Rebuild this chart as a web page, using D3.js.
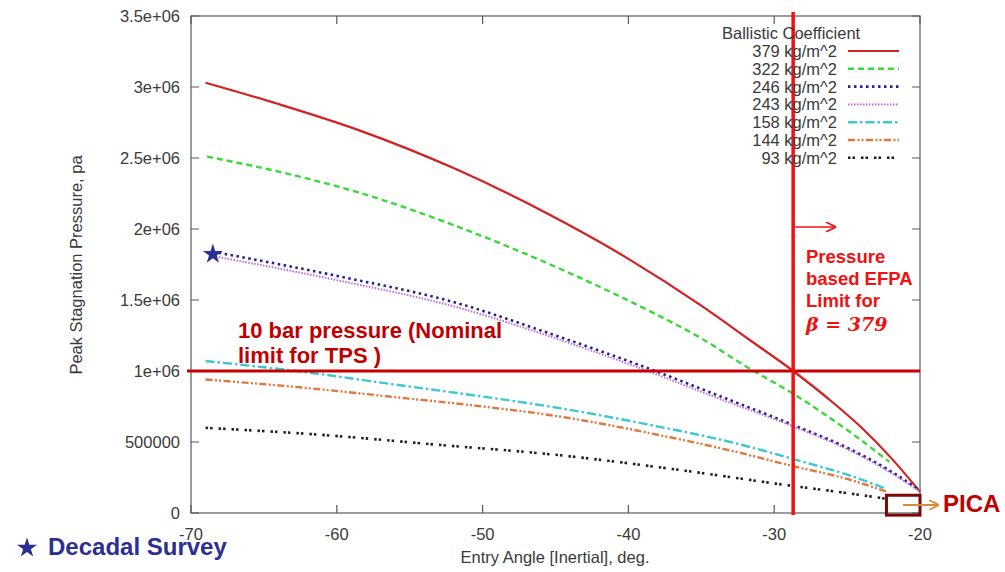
<!DOCTYPE html>
<html>
  <head>
    <meta charset="utf-8">
    <script src="https://d3js.org/d3.v7.min.js"></script>
    <title>Peak Stagnation Pressure vs Entry Angle</title>
    <style>
      body { margin: 0px; background: #fff; }
      svg { display: block; }
      .tick-label, .axis-label, .legend-text {
        fill: #3a3a3a;
        font-family: "Liberation Sans", Arial, sans-serif;
        font-size: 16.5px;
      }
      .note {
        font-family: "Liberation Sans", Arial, sans-serif;
        font-weight: bold;
      }
    </style>
  </head>
  <body>
    <svg width="1005" height="572"></svg>
    <script>
      // ---- data ----
      const legendLabels = ['379 kg/m^2', '322 kg/m^2', '246 kg/m^2', '243 kg/m^2', '158 kg/m^2', '144 kg/m^2', '93 kg/m^2'];

      const angle379 = [-69, -64, -58.6, -51.8, -45.4, -40, -35, -31.7, -28.7, -26, -24, -22, -20];
      const p379 = [3.03e6, 2.88e6, 2.70e6, 2.42e6, 2.10e6, 1.79e6, 1.46e6, 1.22e6, 1.00e6, 0.78e6, 0.60e6, 0.39e6, 0.15e6];

      const angle322 = [-68.9, -63, -58.6, -51.8, -44.7, -38.5, -35, -31.9, -28.7, -24.8, -22.1];
      const p322 = [2.51e6, 2.38e6, 2.26e6, 2.02e6, 1.72e6, 1.42e6, 1.23e6, 1.03e6, 0.84e6, 0.57e6, 0.36e6];

      const angle246 = [-68.5, -60, -51.8, -45, -39.2, -33.9, -28.7, -24.8, -22.1, -20];
      const p246 = [1.84e6, 1.67e6, 1.48e6, 1.25e6, 1.04e6, 0.83e6, 0.62e6, 0.45e6, 0.30e6, 0.16e6];

      const angle243 = [-68.5, -60, -51.8, -45, -39.2, -33.9, -28.7, -24.8, -22.1, -20];
      const p243 = [1.81e6, 1.64e6, 1.45e6, 1.23e6, 1.02e6, 0.81e6, 0.61e6, 0.44e6, 0.29e6, 0.15e6];

      const angle158 = [-69, -62, -56.4, -50, -45.4, -38.5, -33, -28.7, -25, -22.3];
      const p158 = [1.07e6, 0.99e6, 0.91e6, 0.82e6, 0.75e6, 0.62e6, 0.50e6, 0.38e6, 0.27e6, 0.17e6];

      const angle144 = [-69, -62, -56.4, -50, -45.4, -37, -33, -28.7, -25, -22.3];
      const p144 = [0.94e6, 0.88e6, 0.82e6, 0.75e6, 0.69e6, 0.53e6, 0.44e6, 0.33e6, 0.24e6, 0.15e6];

      const angle93 = [-69, -61, -53, -45, -37, -28.7, -25, -22.3];
      const p93 = [0.60e6, 0.55e6, 0.48e6, 0.41e6, 0.31e6, 0.19e6, 0.14e6, 0.10e6];

      const xTicks = [-70, -60, -50, -40, -30, -20];
      const yTicks = [0, 500000, 1000000, 1500000, 2000000, 2500000, 3000000, 3500000];
      const yTickLabels = ['0', '500000', '1e+06', '1.5e+06', '2e+06', '2.5e+06', '3e+06', '3.5e+06'];

      const pressureLimit = 1e6;       // 10 bar
      const efpaLimit = -28.7;         // angle where beta=379 reaches 10 bar
      const decadalPoint = [-68.5, 1.83e6];
      const picaBox = [-22.3, -20, -0.015e6, 0.125e6];

      // line styles per series
      const colors = ['#d42020', '#3ad83a', '#23238f', '#c266e6', '#3cc8d2', '#e0783c', '#1e1e1e'];
      const dashes = ['none', '6,4', '2.5,3.5', '1.5,1.5', '9,3,2.5,3', '7,2.5,2,2,2,2.5', '2.5,2,2.5,6'];
      const widths = [2.2, 2.4, 2.6, 2, 2.4, 2.4, 2.6];

      const series = [
        [angle379, p379], [angle322, p322], [angle246, p246], [angle243, p243],
        [angle158, p158], [angle144, p144], [angle93, p93]
      ].map(([a, p]) => a.map((v, i) => ({ angle: v, p: p[i] })));

      // ---- layout ----
      const svg = d3.select('svg');
      const margin = { left: 191, right: 85, top: 16, bottom: 59 };
      const innerWidth = 1005 - margin.left - margin.right;
      const innerHeight = 572 - margin.top - margin.bottom;
      const g = svg.append('g')
          .attr('transform', `translate(${margin.left},${margin.top})`);

      const xScale = d3.scaleLinear().domain([-70, -20]).range([0, innerWidth]);
      const yScale = d3.scaleLinear().domain([0, 3.5e6]).range([innerHeight, 0]);

      // frame with mirrored inward ticks (gnuplot look)
      const frameColor = '#5a5a5a';
      const tickLen = 8;
      g.append('rect')
          .attr('width', innerWidth).attr('height', innerHeight)
          .attr('fill', 'none').attr('stroke', frameColor).attr('stroke-width', 1.2);

      g.selectAll('.ytick').data(yTicks).enter().append('path')
          .attr('class', 'ytick')
          .attr('d', d => `M0,${yScale(d)}h${tickLen}M${innerWidth},${yScale(d)}h${-tickLen}`)
          .attr('stroke', frameColor).attr('stroke-width', 1.2);
      g.selectAll('.xtick').data(xTicks).enter().append('path')
          .attr('class', 'xtick')
          .attr('d', d => `M${xScale(d)},${innerHeight}v${-tickLen}M${xScale(d)},0v${tickLen}`)
          .attr('stroke', frameColor).attr('stroke-width', 1.2);

      g.selectAll('.ylab').data(yTicks).enter().append('text')
          .attr('class', 'tick-label')
          .attr('x', -11)
          .attr('y', d => yScale(d))
          .attr('dy', '0.35em')
          .attr('text-anchor', 'end')
          .text((d, i) => yTickLabels[i]);
      g.selectAll('.xlab').data(xTicks).enter().append('text')
          .attr('class', 'tick-label')
          .attr('x', d => xScale(d))
          .attr('y', innerHeight + 27)
          .attr('text-anchor', 'middle')
          .text(d => d);

      // axis titles
      svg.append('text')
          .attr('class', 'axis-label')
          .attr('x', 555).attr('y', 563)
          .attr('text-anchor', 'middle')
          .text('Entry Angle [Inertial], deg.');
      svg.append('text')
          .attr('class', 'axis-label')
          .attr('transform', 'translate(82,265) rotate(-90)')
          .attr('text-anchor', 'middle')
          .text('Peak Stagnation Pressure, pa');

      // curves
      const line = d3.line()
          .x(d => xScale(d.angle))
          .y(d => yScale(d.p))
          .curve(d3.curveMonotoneX);
      g.selectAll('.curve').data(series).enter().append('path')
          .attr('class', 'curve')
          .attr('d', line)
          .attr('fill', 'none')
          .attr('stroke', (d, i) => colors[i])
          .attr('stroke-width', (d, i) => widths[i])
          .attr('stroke-dasharray', (d, i) => dashes[i]);

      // legend
      const legendG = svg.append('g');
      legendG.append('text')
          .attr('class', 'legend-text')
          .attr('x', 722).attr('y', 39)
          .text('Ballistic Coefficient');
      const rows = legendG.selectAll('.row').data(legendLabels).enter().append('g')
          .attr('transform', (d, i) => `translate(0, ${57 + i * 17.8})`);
      rows.append('text')
          .attr('class', 'legend-text')
          .attr('x', 837).attr('text-anchor', 'end')
          .text(d => d);
      rows.append('line')
          .attr('x1', 848).attr('x2', 899)
          .attr('y1', -6).attr('y2', -6)
          .attr('stroke', (d, i) => colors[i])
          .attr('stroke-width', (d, i) => widths[i])
          .attr('stroke-dasharray', (d, i) => dashes[i]);

      // 10 bar horizontal limit
      g.append('line')
          .attr('x1', -4).attr('x2', innerWidth)
          .attr('y1', yScale(pressureLimit)).attr('y2', yScale(pressureLimit))
          .attr('stroke', '#c80000').attr('stroke-width', 3);

      // EFPA vertical limit
      g.append('line')
          .attr('x1', xScale(efpaLimit)).attr('x2', xScale(efpaLimit))
          .attr('y1', -4).attr('y2', innerHeight + 2)
          .attr('stroke', '#f21010').attr('stroke-width', 3.5);

      // arrow heads
      const defs = svg.append('defs');
      [['arrowRed', '#f21010'], ['arrowOrange', '#d98a3a']].forEach(([id, c]) => {
        defs.append('marker')
            .attr('id', id).attr('viewBox', '0 0 10 10')
            .attr('refX', 9).attr('refY', 5)
            .attr('markerWidth', 10).attr('markerHeight', 10)
            .attr('markerUnits', 'userSpaceOnUse')
            .attr('orient', 'auto')
          .append('path')
            .attr('d', 'M0,0L10,5L0,10')
            .attr('fill', 'none').attr('stroke', c).attr('stroke-width', 1.6);
      });

      svg.append('line')
          .attr('x1', margin.left + xScale(efpaLimit) + 2).attr('x2', 835)
          .attr('y1', 227).attr('y2', 227)
          .attr('stroke', '#f21010').attr('stroke-width', 1.5)
          .attr('marker-end', 'url(#arrowRed)');

      const efpaText = svg.append('text')
          .attr('class', 'note')
          .attr('fill', '#f21010')
          .style('font-size', '18.5px');
      ['Pressure', 'based EFPA', 'Limit for'].forEach((t, i) => {
        efpaText.append('tspan').attr('x', 806).attr('y', 263 + i * 22).text(t);
      });
      svg.append('text')
          .attr('x', 806).attr('y', 331)
          .attr('fill', '#f21010')
          .style('font-family', '"DejaVu Serif", "Liberation Serif", serif')
          .style('font-weight', 'bold')
          .style('font-style', 'italic')
          .style('font-size', '19px')
          .text('β = 379');

      const tpsText = svg.append('text')
          .attr('class', 'note')
          .attr('fill', '#c00000')
          .style('font-size', '22px');
      ['10 bar pressure (Nominal', 'limit for TPS )'].forEach((t, i) => {
        tpsText.append('tspan').attr('x', 238).attr('y', 338 + i * 25).text(t);
      });

      // PICA box and label
      g.append('rect')
          .attr('x', xScale(picaBox[0])).attr('y', yScale(picaBox[3]))
          .attr('width', xScale(picaBox[1]) - xScale(picaBox[0]))
          .attr('height', yScale(picaBox[2]) - yScale(picaBox[3]))
          .attr('fill', 'none').attr('stroke', '#7a0a0a').attr('stroke-width', 3);
      svg.append('line')
          .attr('x1', 903).attr('x2', 938)
          .attr('y1', 505).attr('y2', 505)
          .attr('stroke', '#d98a3a').attr('stroke-width', 1.8)
          .attr('marker-end', 'url(#arrowOrange)');
      svg.append('text')
          .attr('class', 'note')
          .attr('x', 943).attr('y', 512)
          .attr('fill', '#c00000')
          .style('font-size', '24px')
          .text('PICA');

      // Decadal survey star on the chart and its key
      const star = d3.symbol().type(d3.symbolStar).size(125);
      g.append('path')
          .attr('d', star)
          .attr('transform', `translate(${xScale(decadalPoint[0])},${yScale(decadalPoint[1]) + 1})`)
          .attr('fill', '#2b2f93');
      svg.append('path')
          .attr('d', star)
          .attr('transform', 'translate(27,548)')
          .attr('fill', '#2b2f93');
      svg.append('text')
          .attr('class', 'note')
          .attr('x', 48).attr('y', 555)
          .attr('fill', '#2b2f93')
          .style('font-size', '24px')
          .text('Decadal Survey');
    </script>
  </body>
</html>
